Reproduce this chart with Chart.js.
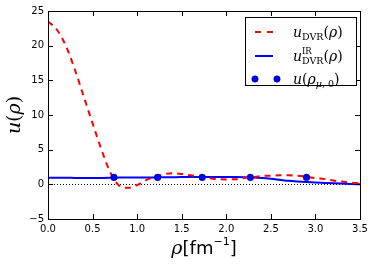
<!DOCTYPE html>
<html>
<head>
<meta charset="utf-8">
<script src="https://cdn.jsdelivr.net/npm/chart.js@4.4.0/dist/chart.umd.min.js"></script>
<style>
  html, body { margin: 0; padding: 0; background: #ffffff; }
  #wrap { width: 374px; height: 264px; position: relative; }
</style>
</head>
<body>
<div id="wrap"><canvas id="grafico" width="374" height="264"></canvas></div>
<script>
// valores
const rho = [0.0, 0.1, 0.2, 0.3, 0.4, 0.5, 0.6, 0.7, 0.8, 0.9, 1.0, 1.1, 1.2, 1.3, 1.4, 1.5, 1.6, 1.7,
             1.8, 1.9, 2.0, 2.1, 2.2, 2.3, 2.4, 2.5, 2.6, 2.7, 2.8, 2.9, 3.0, 3.1, 3.2, 3.3, 3.4, 3.5];
const uDvr = [23.5, 22.3, 20.0, 16.6, 12.7, 8.8, 5.0, 1.7, -0.2, -0.5, -0.1, 0.6, 1.1, 1.45, 1.6, 1.5, 1.3, 1.1,
              0.9, 0.75, 0.7, 0.75, 0.9, 1.05, 1.2, 1.25, 1.3, 1.3, 1.25, 1.1, 0.9, 0.75, 0.55, 0.4, 0.25, 0.15];
const uIr = [0.95, 0.95, 0.95, 0.93, 0.92, 0.92, 0.93, 0.95, 0.98, 1.0, 1.0, 1.0, 1.0, 1.02, 1.03, 1.04, 1.04, 1.04,
             1.04, 1.04, 1.04, 1.04, 1.03, 1.0, 0.92, 0.8, 0.65, 0.5, 0.4, 0.32, 0.26, 0.21, 0.16, 0.11, 0.06, 0.0];
const rhoMu = [0.74, 1.23, 1.73, 2.27, 2.9];
const uMu = [1.0, 1.0, 1.0, 1.0, 1.0];
const xTicks = [0.0, 0.5, 1.0, 1.5, 2.0, 2.5, 3.0, 3.5];
const yTicks = [-5, 0, 5, 10, 15, 20, 25];

const serif = '"DejaVu Serif", "Liberation Serif", serif';
const sans = '"DejaVu Sans", sans-serif';

function pares(xs, ys) {
    return xs.map((x, i) => ({ x: x, y: ys[i] }));
}

// desenha uma sequencia de pedacos de texto (para sub/sobrescritos)
function textoComposto(ctx, x, y, pedacos) {
    let cx = x;
    pedacos.forEach((p) => {
        ctx.font = p.font;
        ctx.fillText(p.t, cx, y + (p.dy || 0));
        if (!p.keep) cx += ctx.measureText(p.t).width;
    });
}

function larguraComposta(ctx, pedacos) {
    let w = 0;
    pedacos.forEach((p) => {
        ctx.font = p.font;
        if (!p.keep) w += ctx.measureText(p.t).width;
    });
    return w;
}

const moldura = {
    id: "moldura",
    beforeDatasetsDraw(chart) {
        const { ctx, chartArea: a, scales } = chart;
        const y0 = scales.y.getPixelForValue(0);
        ctx.save();
        ctx.strokeStyle = "#000";
        ctx.lineWidth = 1;
        ctx.setLineDash([1, 2]);
        ctx.beginPath();
        ctx.moveTo(a.left, Math.round(y0) + 0.5);
        ctx.lineTo(a.right, Math.round(y0) + 0.5);
        ctx.stroke();
        ctx.restore();
    },
    afterDraw(chart) {
        const { ctx, chartArea: a, scales } = chart;
        ctx.save();
        ctx.strokeStyle = "#000";
        ctx.lineWidth = 1;
        ctx.strokeRect(Math.round(a.left) + 0.5, Math.round(a.top) + 0.5,
            Math.round(a.right - a.left), Math.round(a.bottom - a.top));

        // marcas para dentro nos quatro lados
        ctx.beginPath();
        xTicks.forEach((v) => {
            const px = Math.round(scales.x.getPixelForValue(v)) + 0.5;
            ctx.moveTo(px, a.bottom); ctx.lineTo(px, a.bottom - 5);
            ctx.moveTo(px, a.top); ctx.lineTo(px, a.top + 5);
        });
        yTicks.forEach((v) => {
            const py = Math.round(scales.y.getPixelForValue(v)) + 0.5;
            ctx.moveTo(a.left, py); ctx.lineTo(a.left + 5, py);
            ctx.moveTo(a.right, py); ctx.lineTo(a.right - 5, py);
        });
        ctx.stroke();

        // titulos dos eixos
        ctx.fillStyle = "#000";
        ctx.textBaseline = "alphabetic";
        ctx.textAlign = "left";
        const tx = [
            { t: "ρ", font: "italic 19px " + serif },
            { t: "[fm", font: "18px " + sans },
            { t: "−1", font: "11px " + sans, dy: -9 },
            { t: "]", font: "18px " + sans }
        ];
        const wx = larguraComposta(ctx, tx);
        textoComposto(ctx, (a.left + a.right) / 2 - wx / 2, 254, tx);

        const ty = [
            { t: "u", font: "italic 19px " + serif },
            { t: "(", font: "19px " + serif },
            { t: "ρ", font: "italic 19px " + serif },
            { t: ")", font: "19px " + serif }
        ];
        const wy = larguraComposta(ctx, ty);
        ctx.translate(20, (a.top + a.bottom) / 2);
        ctx.rotate(-Math.PI / 2);
        textoComposto(ctx, -wy / 2, 0, ty);
        ctx.restore();

        // legenda
        ctx.save();
        const lx = 245, ly = 17, lw = 111, lh = 68;
        ctx.fillStyle = "#fff";
        ctx.fillRect(lx, ly, lw, lh);
        ctx.strokeStyle = "#000";
        ctx.lineWidth = 1;
        ctx.strokeRect(lx + 0.5, ly + 0.5, lw, lh);

        const linhas = [32, 56, 79];
        ctx.lineWidth = 2;
        ctx.strokeStyle = "#ff0000";
        ctx.setLineDash([6, 6]);
        ctx.beginPath();
        ctx.moveTo(255, linhas[0]); ctx.lineTo(273, linhas[0]);
        ctx.stroke();
        ctx.setLineDash([]);
        ctx.strokeStyle = "#0000ff";
        ctx.beginPath();
        ctx.moveTo(255, linhas[1]); ctx.lineTo(273, linhas[1]);
        ctx.stroke();
        ctx.fillStyle = "#0000ff";
        ctx.strokeStyle = "#000080";
        ctx.lineWidth = 0.6;
        [255, 277].forEach((px) => {
            ctx.beginPath();
            ctx.arc(px, linhas[2], 3.2, 0, Math.PI * 2);
            ctx.fill();
            ctx.stroke();
        });

        ctx.fillStyle = "#000";
        const it = "italic 14px " + serif;
        const rm = "14px " + serif;
        const sub = "9.5px " + serif;
        textoComposto(ctx, 293, linhas[0] + 5, [
            { t: "u", font: it },
            { t: "DVR", font: sub, dy: 3 },
            { t: "(", font: rm },
            { t: "ρ", font: it },
            { t: ")", font: rm }
        ]);
        textoComposto(ctx, 293, linhas[1] + 5, [
            { t: "u", font: it },
            { t: "IR", font: "8.5px " + serif, dy: -7, keep: true },
            { t: "DVR", font: sub, dy: 3 },
            { t: "(", font: rm },
            { t: "ρ", font: it },
            { t: ")", font: rm }
        ]);
        textoComposto(ctx, 293, linhas[2] + 5, [
            { t: "u", font: it },
            { t: "(", font: rm },
            { t: "ρ", font: it },
            { t: "μ,", font: "italic 9.5px " + serif, dy: 3 },
            { t: " 0", font: sub, dy: 3 },
            { t: ")", font: rm }
        ]);
        ctx.restore();
    }
};

new Chart(document.getElementById("grafico"), {
    type: "line",
    data: {
        datasets: [
            {
                label: "u(ρμ,0)",
                data: pares(rhoMu, uMu),
                showLine: false,
                pointRadius: 3.3,
                pointBackgroundColor: "#0000ff",
                pointBorderColor: "#000080",
                pointBorderWidth: 0.6,
                order: 0
            },
            {
                label: "uIR DVR(ρ)",
                data: pares(rho, uIr),
                borderColor: "#0000ff",
                borderWidth: 2,
                pointRadius: 0,
                cubicInterpolationMode: "monotone",
                order: 2
            },
            {
                label: "uDVR(ρ)",
                data: pares(rho, uDvr),
                borderColor: "#ff0000",
                borderWidth: 2,
                borderDash: [6, 5],
                pointRadius: 0,
                cubicInterpolationMode: "monotone",
                order: 1
            }
        ]
    },
    options: {
        responsive: false,
        animation: false,
        events: [],
        layout: { padding: { left: 0, top: 11, right: 14, bottom: 0 } },
        plugins: {
            legend: { display: false },
            tooltip: { enabled: false }
        },
        scales: {
            x: {
                type: "linear",
                min: 0,
                max: 3.5,
                afterFit: (s) => { s.height = 45; },
                afterBuildTicks: (s) => { s.ticks = xTicks.map((v) => ({ value: v })); },
                grid: { display: false, drawTicks: false },
                border: { display: false },
                ticks: {
                    padding: 4,
                    color: "#000",
                    font: { family: "DejaVu Sans", size: 10 },
                    maxRotation: 0,
                    callback: (v) => v.toFixed(1)
                }
            },
            y: {
                type: "linear",
                min: -5,
                max: 25,
                afterFit: (s) => { s.width = 48; },
                afterBuildTicks: (s) => { s.ticks = yTicks.map((v) => ({ value: v })); },
                grid: { display: false, drawTicks: false },
                border: { display: false },
                ticks: {
                    padding: 4,
                    color: "#000",
                    font: { family: "DejaVu Sans", size: 10 },
                    callback: (v) => String(v).replace("-", "−")
                }
            }
        }
    },
    plugins: [moldura]
});
</script>
</body>
</html>
